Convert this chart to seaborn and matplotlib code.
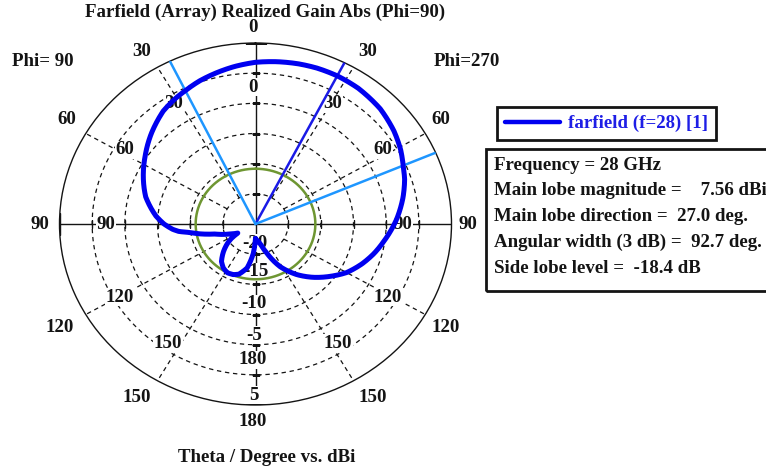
import numpy as np
import matplotlib
matplotlib.use("Agg")
import matplotlib.pyplot as plt
from matplotlib.patches import Rectangle
import pandas as pd
import seaborn as sns

# Realized gain cut at Phi=90 / Phi=270, angle measured clockwise from broadside (deg)
theta_deg = [-180, -176, -170, -163, -158, -152, -146, -140, -133, -127,
             -123, -119, -113, -105, -101, -98, -96, -94, -90, -85,
             -75, -65, -56, -47, -37, -30, -26, -20, -13, -7,
             0, 7, 14, 20, 27, 35, 45, 54, 61, 67,
             72, 79, 88, 93, 98, 105, 112, 120, 127, 135,
             143, 152, 160, 166, 171, 180]
gain_dbi = [-17.6, -15.1, -12.6, -11.3, -10.95, -10.84, -11.2, -11.9, -13.3, -14.6,
            -15.6, -16.9, -15.8, -13.6, -11.4, -9.9, -8.2, -7.3, -6.0, -4.7,
            -2.6, -1.05, 0.35, 1.85, 3.45, 4.2, 4.56, 5.2, 5.8, 6.3,
            6.8, 7.1, 7.35, 7.5, 7.56, 7.45, 7.0, 6.2, 5.4, 4.56,
            4.0, 3.0, 1.6, 0.75, -0.1, -1.2, -2.4, -3.9, -5.6, -7.5,
            -9.5, -12.0, -14.8, -16.4, -17.05, -17.6]

r_min, r_max = -20, 10
ring_levels = [-15, -10, -5, 0, 5]
spoke_angles = [30, 60, 120, 150, 210, 240, 300, 330]
main_lobe_dir = 27.0
hpbw_edges = [-25.9, 66.8]
main_lobe_mag = 7.56
side_lobe_level = -18.4

legend_label = "farfield (f=28) [1]"
info_lines = ["Frequency = 28 GHz",
              "Main lobe magnitude =    7.56 dBi",
              "Main lobe direction =  27.0 deg.",
              "Angular width (3 dB) =  92.7 deg.",
              "Side lobe level =  -18.4 dB"]

outer_theta_labels = [("0", 253, 28), ("30", 142, 52), ("30", 368, 52),
                      ("60", 67, 120), ("60", 441, 120), ("90", 40, 224),
                      ("90", 468, 224), ("120", 60, 327), ("120", 446, 327),
                      ("150", 137, 397), ("150", 373, 397), ("180", 253, 422)]
inner_theta_labels = [("0", 253, 87), ("30", 174, 104), ("30", 333, 104),
                      ("60", 125, 150), ("60", 383, 150), ("90", 106, 224),
                      ("90", 403, 224), ("120", 120, 297), ("120", 388, 297),
                      ("150", 168, 343), ("150", 338, 343), ("180", 253, 360)]
radial_labels = [("-20", 255, 243), ("-15", 256, 272), ("-10", 254, 304),
                 ("-5", 254, 335), ("5", 254, 395)]

W, H = 766, 468
FS = 13.6
INK = '#141414'


def px(x, y):
    return x / W, 1 - y / H


sns.set_theme(style="white")
plt.rcParams['font.family'] = ['Liberation Serif', 'DejaVu Serif']
plt.rcParams['font.weight'] = 'bold'

fig = plt.figure(figsize=(W / 100, H / 100), dpi=100)
fig.patch.set_facecolor('white')

# polar frame stretched slightly wider than tall
cx, cy, rx, ry = 255.5, 224, 196, 181
ax = fig.add_axes([(cx - rx) / W, (H - cy - ry) / H, 2 * rx / W, 2 * ry / H],
                  projection='polar')
ax.set_aspect('auto')
ax.set_theta_zero_location('N')
ax.set_theta_direction(-1)
ax.set_rlim(r_min, r_max)
ax.grid(False)
ax.set_xticks([])
ax.set_yticks([])
ax.set_facecolor('white')
ax.spines['polar'].set_linewidth(1.0)
ax.spines['polar'].set_color(INK)

full = np.linspace(0, 2 * np.pi, 721)
for lvl in ring_levels:
    ax.plot(full, np.full_like(full, lvl), color=INK, lw=0.9,
            ls=(0, (3.5, 3)), zorder=1)
for a in spoke_angles:
    ax.plot([np.deg2rad(a)] * 2, [ring_levels[0], r_max], color=INK,
            lw=0.9, ls=(0, (3.5, 3)), zorder=1)
for a in [0, 90]:
    t = np.deg2rad(a)
    ax.plot([t, t], [r_min, r_max], color=INK, lw=1.0, zorder=1)
    ax.plot([t + np.pi, t + np.pi], [r_min, r_max], color=INK, lw=1.0, zorder=1)
# small ticks where the rings cross the axes
for a, mk in [(0, '_'), (180, '_'), (90, '|'), (270, '|')]:
    t = np.deg2rad(a)
    ax.plot([t] * len(ring_levels), ring_levels, ls='none', marker=mk,
            ms=6, mew=1.0, color=INK, zorder=1)
    ax.plot([t], [r_max], ls='none', marker=mk, ms=16, mew=1.0,
            color=INK, zorder=1)

# side lobe level ring
sll_abs = main_lobe_mag + side_lobe_level
ax.plot(full, np.full_like(full, sll_abs), color='#6E9632', lw=1.8, zorder=3)

# main lobe direction and 3 dB beam edges
ax.plot([np.deg2rad(main_lobe_dir)] * 2, [r_min, r_max], color='#1A1AE6',
        lw=1.8, zorder=3)
for e in hpbw_edges:
    ax.plot([np.deg2rad(e)] * 2, [r_min, r_max], color='#1E96FF', lw=1.8, zorder=3)

df = pd.DataFrame({"theta": np.deg2rad(theta_deg), "gain": gain_dbi})
sns.lineplot(data=df, x="theta", y="gain", sort=False, estimator=None,
             color='#0000F0', lw=3.6, ax=ax, zorder=4)
ax.set_xlabel('')
ax.set_ylabel('')
ax.set_rlim(r_min, r_max)
curve = ax.get_lines()[-1]
curve.set_solid_joinstyle('round')
# draw each segment as an arc in polar space rather than a straight chord
curve.get_path()._interpolation_steps = 24

label_kw = dict(ha='center', va='center', fontsize=FS, fontweight='bold',
                color=INK, zorder=2, clip_on=False, transform=fig.transFigure,
                bbox=dict(boxstyle='square,pad=0.05', fc='white', ec='none'))
for txt, x, y in outer_theta_labels + inner_theta_labels + radial_labels:
    ax.text(*px(x, y), txt, **label_kw)

fig.text(*px(265, 12), "Farfield (Array) Realized Gain Abs (Phi=90)",
         ha='center', va='center', fontsize=FS, fontweight='bold', color=INK)
fig.text(*px(43, 62), "Phi= 90", ha='center', va='center', fontsize=FS,
         fontweight='bold', color=INK)
fig.text(*px(467, 62), "Phi=270", ha='center', va='center', fontsize=FS,
         fontweight='bold', color=INK)
fig.text(*px(267, 457), "Theta / Degree vs. dBi", ha='center', va='center',
         fontsize=FS, fontweight='bold', color=INK)

leg = fig.legend(handles=[curve], labels=[legend_label], loc='upper left',
                 bbox_to_anchor=px(497, 107), bbox_transform=fig.transFigure,
                 fancybox=False, framealpha=1, edgecolor=INK,
                 borderaxespad=0, handlelength=2.9, handletextpad=0.45,
                 borderpad=0.42,
                 prop=dict(family='Liberation Serif', weight='bold', size=FS),
                 labelcolor='#1E1EE6')
leg.get_frame().set_linewidth(2.0)
for h in leg.legend_handles:
    h.set_linewidth(3.2)

x0, y0 = px(486, 291)
x1, y1 = px(810, 149)
fig.add_artist(Rectangle((x0, y0), x1 - x0, y1 - y0, transform=fig.transFigure,
                         fill=False, ec=INK, lw=2.0))
for i, line in enumerate(info_lines):
    fig.text(*px(494, 165 + i * 25.8), line, ha='left', va='center',
             fontsize=FS, fontweight='bold', color=INK)

fig.savefig("out.png", dpi=100, facecolor='white')
